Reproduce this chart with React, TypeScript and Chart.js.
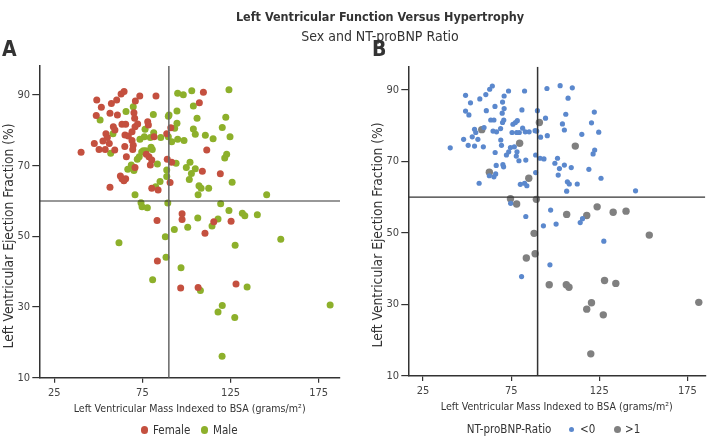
import React, { useEffect, useRef } from "react";
import { Chart, registerables } from "chart.js";

Chart.register(...registerables);

const FONT = "'DejaVu Sans Condensed', 'Liberation Sans Narrow', sans-serif";

// ---------- tick labels ----------
const xTickValues = [25, 75, 125, 175];
const yTickValues = [10, 30, 50, 70, 90];

// reference lines
const lvefCutoff = 60;
const lvmiCutoff = 90;

// ---------- Panel A: sex ----------
const femalePoints: [number, number][] = [
  [40.2, 73.8], [49.1, 88.6], [48.8, 84.2], [51.7, 86.5], [47.7, 76.3], [50.4, 74.6],
  [53.9, 74.6], [54.3, 79.0], [55.1, 78.0], [52.6, 77.0], [56.2, 76.3], [57.4, 87.6],
  [56.6, 84.8], [58.5, 81.0], [59.4, 80.1], [59.3, 74.4], [56.6, 63.9], [60.4, 88.6],
  [60.8, 84.3], [62.9, 90.3], [64.6, 91.0], [63.4, 81.7], [65.5, 81.7], [65.1, 78.7],
  [67.0, 78.4], [69.1, 79.6], [70.8, 81.0], [72.3, 81.8], [70.6, 83.4], [70.2, 85.0],
  [71.0, 88.3], [73.5, 89.7], [69.1, 77.1], [69.8, 75.8], [65.0, 75.4], [69.5, 74.6],
  [65.9, 72.5], [70.8, 69.5], [62.5, 67.1], [63.4, 66.3], [65.5, 66.3], [64.5, 65.7],
  [78.0, 82.4], [78.4, 81.5], [77.2, 73.2], [78.7, 72.5], [80.3, 71.6], [79.5, 70.2],
  [81.6, 78.2], [82.7, 89.7], [80.3, 63.6], [83.9, 63.1], [88.8, 79.0], [89.1, 71.8],
  [91.1, 80.7], [91.6, 71.0], [90.7, 65.2], [109.6, 90.8], [107.3, 87.8], [111.5, 74.4],
  [109.0, 68.4], [119.2, 67.7], [97.5, 56.4], [97.5, 54.8], [83.3, 54.5], [115.5, 54.1],
  [125.3, 54.3], [110.5, 50.9], [83.5, 43.0], [96.7, 35.4], [106.6, 35.5], [128.1, 36.5],
];

const malePoints: [number, number][] = [
  [51.0, 82.9], [58.3, 79.0], [57.0, 73.5], [65.7, 85.3], [69.8, 86.7], [66.7, 69.0],
  [68.7, 70.2], [69.8, 69.5], [70.2, 68.6], [70.8, 61.8], [72.1, 71.8], [73.2, 72.5],
  [74.6, 73.9], [75.5, 74.2], [76.9, 74.2], [73.6, 77.5], [76.1, 78.2], [76.5, 80.3],
  [79.5, 78.0], [79.9, 75.2], [80.6, 74.6], [81.4, 79.3], [81.2, 84.5], [83.5, 70.5],
  [82.5, 64.0], [85.0, 65.5], [85.4, 78.0], [89.7, 84.0], [89.7, 78.2], [88.8, 68.8],
  [88.8, 66.9], [91.6, 76.8], [93.3, 80.6], [94.1, 70.7], [95.0, 90.5], [94.6, 85.5],
  [94.6, 82.0], [95.0, 77.5], [98.2, 90.1], [103.0, 91.2], [124.1, 91.5], [103.9, 86.9],
  [90.1, 84.3], [106.0, 83.4], [122.3, 83.7], [103.9, 80.4], [120.3, 80.8], [105.0, 78.9],
  [110.7, 78.6], [115.1, 77.6], [124.7, 78.2], [98.6, 77.1], [122.8, 73.2], [121.7, 72.2],
  [102.0, 71.0], [99.9, 69.5], [105.0, 69.1], [102.8, 67.8], [101.6, 66.1], [125.9, 65.3],
  [107.1, 64.3], [108.3, 63.6], [112.6, 63.6], [106.6, 61.8], [145.5, 61.8], [74.2, 59.5],
  [74.8, 58.4], [77.8, 58.1], [89.4, 59.4], [119.4, 59.2], [124.1, 57.3], [131.7, 56.5],
  [133.1, 55.8], [140.2, 56.1], [106.4, 55.2], [117.9, 54.9], [114.5, 52.9], [100.7, 52.6],
  [93.1, 51.9], [88.0, 49.9], [61.7, 48.2], [127.6, 47.5], [153.5, 49.2], [88.4, 44.1],
  [96.9, 41.1], [80.8, 37.7], [107.9, 34.7], [134.4, 35.7], [120.3, 30.4], [117.9, 28.6],
  [127.4, 27.0], [181.5, 30.6], [120.2, 16.1],
];

// ---------- Panel B: NT-proBNP ratio ----------
const ratioLowPoints: [number, number][] = [
  [40.4, 73.8], [48.0, 76.2], [49.1, 88.5], [49.1, 84.1], [51.0, 83.0], [51.9, 86.4],
  [50.6, 74.5], [52.9, 76.9], [54.2, 79.0], [54.9, 78.1], [54.2, 74.3], [56.1, 76.2],
  [57.2, 87.5], [59.2, 74.1], [59.6, 79.5], [60.6, 88.7], [60.9, 84.2], [56.8, 63.9],
  [62.8, 90.2], [64.3, 91.1], [63.4, 81.6], [65.2, 81.6], [65.8, 85.4], [64.7, 78.5],
  [66.7, 78.3], [65.9, 72.5], [66.5, 68.9], [62.6, 66.0], [65.2, 65.7], [66.2, 66.5],
  [69.0, 79.2], [70.1, 80.9], [70.8, 81.6], [69.9, 83.5], [71.0, 84.8], [70.1, 86.6],
  [71.0, 88.3], [73.5, 89.7], [69.1, 76.0], [69.5, 74.5], [72.3, 71.8], [70.3, 69.1],
  [70.7, 68.5], [73.6, 72.7], [74.6, 73.9], [76.8, 74.1], [75.5, 78.1], [78.1, 78.1],
  [79.6, 78.1], [76.0, 80.4], [77.4, 80.9], [78.5, 81.4], [81.1, 84.4], [82.6, 89.7],
  [78.3, 72.7], [77.9, 71.5], [79.4, 70.2], [83.3, 70.4], [80.2, 63.6], [82.6, 63.9],
  [83.9, 63.2], [81.5, 79.3], [83.0, 78.3], [85.2, 78.3], [88.6, 78.6], [89.5, 78.5],
  [89.9, 84.2], [88.9, 71.8], [88.9, 66.9], [91.7, 76.8], [91.4, 70.9], [93.6, 70.7],
  [94.5, 82.1], [95.5, 77.2], [95.3, 90.4], [102.8, 91.2], [109.7, 90.6], [107.3, 87.7],
  [106.0, 83.2], [104.1, 80.5], [105.2, 78.8], [101.3, 70.9], [99.8, 69.5], [102.4, 68.0],
  [101.7, 66.2], [105.2, 69.0], [109.1, 68.3], [106.9, 64.3], [108.0, 63.7], [112.5, 63.7],
  [106.5, 61.7], [115.1, 77.6], [122.2, 83.8], [120.6, 80.8], [124.7, 78.2], [122.4, 73.2],
  [121.5, 72.1], [119.1, 67.8], [126.0, 65.3], [145.6, 61.8], [74.7, 58.3], [83.3, 54.6],
  [97.4, 56.4], [93.3, 52.0], [100.5, 52.5], [114.2, 52.9], [115.5, 54.0], [127.6, 47.7],
  [97.0, 41.1], [80.9, 37.8],
];

const ratioHighPoints: [number, number][] = [
  [58.3, 78.9], [79.8, 75.1], [62.6, 67.0], [85.0, 65.3], [91.0, 80.9], [111.4, 74.3],
  [74.6, 59.6], [78.1, 58.1], [89.3, 59.4], [123.8, 57.3], [106.5, 55.2], [117.9, 54.9],
  [132.9, 55.8], [140.2, 56.1], [88.0, 49.9], [153.4, 49.4], [88.6, 44.2], [83.6, 43.0],
  [96.6, 35.5], [106.3, 35.5], [107.8, 34.8], [128.0, 36.7], [134.4, 35.9], [120.6, 30.5],
  [117.9, 28.7], [127.3, 27.1], [181.5, 30.6], [120.2, 16.2],
];

const COLORS = {
  female: "#C4503F",
  male: "#8DB02B",
  low: "#5B88CD",
  high: "#808080",
  text: "#333333",
  axis: "#333333",
};

const xTitle = "Left Ventricular Mass Indexed to BSA (grams/m²)";
const yTitle = "Left Ventricular Ejection Fraction (%)";

type PanelCfg = {
  series: { pts: [number, number][]; color: string; radius: number }[];
  xMin: number;
  xMax: number;
  yMin: number;
  yMax: number;
  padding: { left: number; right: number; top: number; bottom: number };
  xAxisHeight: number;
  xTitlePad: number;
  vColor: string;
};

function buildChart(canvas: HTMLCanvasElement, cfg: PanelCfg) {
  const lineSets = [
    {
      data: [
        { x: lvmiCutoff, y: cfg.yMin },
        { x: lvmiCutoff, y: cfg.yMax },
      ],
      showLine: true,
      borderColor: cfg.vColor,
      borderWidth: 1.5,
      pointRadius: 0,
      pointHoverRadius: 0,
    },
    {
      data: [
        { x: cfg.xMin, y: lvefCutoff },
        { x: cfg.xMax, y: lvefCutoff },
      ],
      showLine: true,
      borderColor: "#333333",
      borderWidth: 1.2,
      pointRadius: 0,
      pointHoverRadius: 0,
    },
  ];
  const pointSets = cfg.series.map((s) => ({
    data: s.pts.map(([x, y]) => ({ x, y })),
    backgroundColor: s.color,
    borderWidth: 0,
    pointRadius: s.radius,
    pointHoverRadius: s.radius,
    showLine: false,
  }));
  const tickFont = { family: FONT, size: 11 };
  return new Chart(canvas, {
    type: "scatter",
    data: { datasets: [...lineSets, ...pointSets] as any },
    options: {
      animation: false,
      responsive: false,
      devicePixelRatio: 1,
      layout: { padding: cfg.padding },
      plugins: { legend: { display: false }, tooltip: { enabled: false } },
      events: [],
      scales: {
        x: {
          type: "linear",
          min: cfg.xMin,
          max: cfg.xMax,
          afterBuildTicks: (s: any) => {
            s.ticks = xTickValues.map((v) => ({ value: v }));
          },
          afterFit: (s: any) => {
            s.height = cfg.xAxisHeight;
          },
          ticks: { font: tickFont, color: "#444", padding: 4, autoSkip: false, maxRotation: 0 },
          grid: { drawOnChartArea: false, drawTicks: true, tickLength: 5, color: COLORS.axis, lineWidth: 1.2 },
          border: { display: true, color: COLORS.axis, width: 1.5 },
          title: {
            display: true,
            text: xTitle,
            color: COLORS.text,
            font: { family: FONT, size: 10.6 },
            padding: { top: 0, bottom: cfg.xTitlePad },
          },
        },
        y: {
          type: "linear",
          min: cfg.yMin,
          max: cfg.yMax,
          afterBuildTicks: (s: any) => {
            s.ticks = yTickValues.map((v) => ({ value: v }));
          },
          afterFit: (s: any) => {
            s.width = 39.3;
          },
          ticks: { font: tickFont, color: "#444", padding: 2.3, autoSkip: false },
          grid: { drawOnChartArea: false, drawTicks: true, tickLength: 7, color: COLORS.axis, lineWidth: 1.2 },
          border: { display: true, color: COLORS.axis, width: 1.5 },
          title: { display: false },
        },
      },
    } as any,
  });
}

function Dot({ cx, cy, d, color }: { cx: number; cy: number; d: number; color: string }) {
  return (
    <div
      style={{
        position: "absolute",
        left: cx - d / 2,
        top: cy - d / 2,
        width: d,
        height: d,
        borderRadius: "50%",
        background: color,
      }}
    />
  );
}

function Label({ left, cy, text, size = 11.5 }: { left: number; cy: number; text: string; size?: number }) {
  return (
    <div
      style={{
        position: "absolute",
        left,
        top: cy - 8,
        height: 16,
        lineHeight: "16px",
        fontSize: size,
        color: COLORS.text,
        whiteSpace: "nowrap",
      }}
    >
      {text}
    </div>
  );
}

function YTitle({ cx, cy }: { cx: number; cy: number }) {
  return (
    <div
      style={{
        position: "absolute",
        left: cx - 150,
        top: cy - 8,
        width: 300,
        height: 16,
        lineHeight: "16px",
        fontSize: 13.7,
        textAlign: "center",
        whiteSpace: "nowrap",
        color: COLORS.text,
        transform: "rotate(-90deg)",
        transformOrigin: "50% 50%",
      }}
    >
      {yTitle}
    </div>
  );
}

export default function App() {
  const refA = useRef<HTMLCanvasElement>(null);
  const refB = useRef<HTMLCanvasElement>(null);

  useEffect(() => {
    const a = buildChart(refA.current!, {
      series: [
        { pts: femalePoints, color: COLORS.female, radius: 3.5 },
        { pts: malePoints, color: COLORS.male, radius: 3.5 },
      ],
      xMin: 16.5,
      xMax: 187.1,
      yMin: 10,
      yMax: 98.2,
      padding: { left: 0, right: 10, top: 66, bottom: 0 },
      xAxisHeight: 437 - 377.7,
      xTitlePad: 21.4,
      vColor: "#666666",
    });
    const b = buildChart(refB.current!, {
      series: [
        { pts: ratioLowPoints, color: COLORS.low, radius: 2.6 },
        { pts: ratioHighPoints, color: COLORS.high, radius: 3.7 },
      ],
      xMin: 16.6,
      xMax: 185.2,
      yMin: 10,
      yMax: 96.5,
      padding: { left: 0, right: 0, top: 66.7, bottom: 0 },
      xAxisHeight: 437 - 376,
      xTitlePad: 23,
      vColor: "#333333",
    });
    return () => {
      a.destroy();
      b.destroy();
    };
  }, []);

  return (
    <div
      style={{
        position: "absolute",
        left: 0,
        top: 0,
        width: 709,
        height: 437,
        background: "#fff",
        fontFamily: FONT,
        color: COLORS.text,
        overflow: "hidden",
      }}
    >
      <canvas ref={refA} width={350} height={437} style={{ position: "absolute", left: 0, top: 0 }} />
      <canvas ref={refB} width={340} height={437} style={{ position: "absolute", left: 369, top: 0 }} />

      <YTitle cx={8} cy={236} />
      <YTitle cx={377} cy={235} />

      <div
        style={{
          position: "absolute",
          left: 180,
          width: 400,
          top: 9,
          lineHeight: "16px",
          fontSize: 12.5,
          fontWeight: 600,
          textAlign: "center",
        }}
      >
        Left Ventricular Function Versus Hypertrophy
      </div>
      <div
        style={{
          position: "absolute",
          left: 180,
          width: 400,
          top: 28,
          lineHeight: "16px",
          fontSize: 14,
          textAlign: "center",
        }}
      >
        Sex and NT-proBNP Ratio
      </div>
      <div style={{ position: "absolute", left: 2, top: 37, lineHeight: "24px", fontSize: 21, fontWeight: 600 }}>A</div>
      <div style={{ position: "absolute", left: 372, top: 37, lineHeight: "24px", fontSize: 21, fontWeight: 600 }}>B</div>

      {/* legend A */}
      <Dot cx={144.3} cy={430} d={7.5} color={COLORS.female} />
      <Label left={153} cy={430} text="Female" />
      <Dot cx={204.5} cy={430} d={7.5} color={COLORS.male} />
      <Label left={213} cy={430} text="Male" />

      {/* legend B */}
      <Label left={466.7} cy={429.3} text="NT-proBNP-Ratio" />
      <Dot cx={571.7} cy={429.3} d={5.2} color={COLORS.low} />
      <Label left={580} cy={429.3} text="<0" />
      <Dot cx={617.7} cy={429.3} d={7.5} color={COLORS.high} />
      <Label left={625} cy={429.3} text=">1" />
    </div>
  );
}
